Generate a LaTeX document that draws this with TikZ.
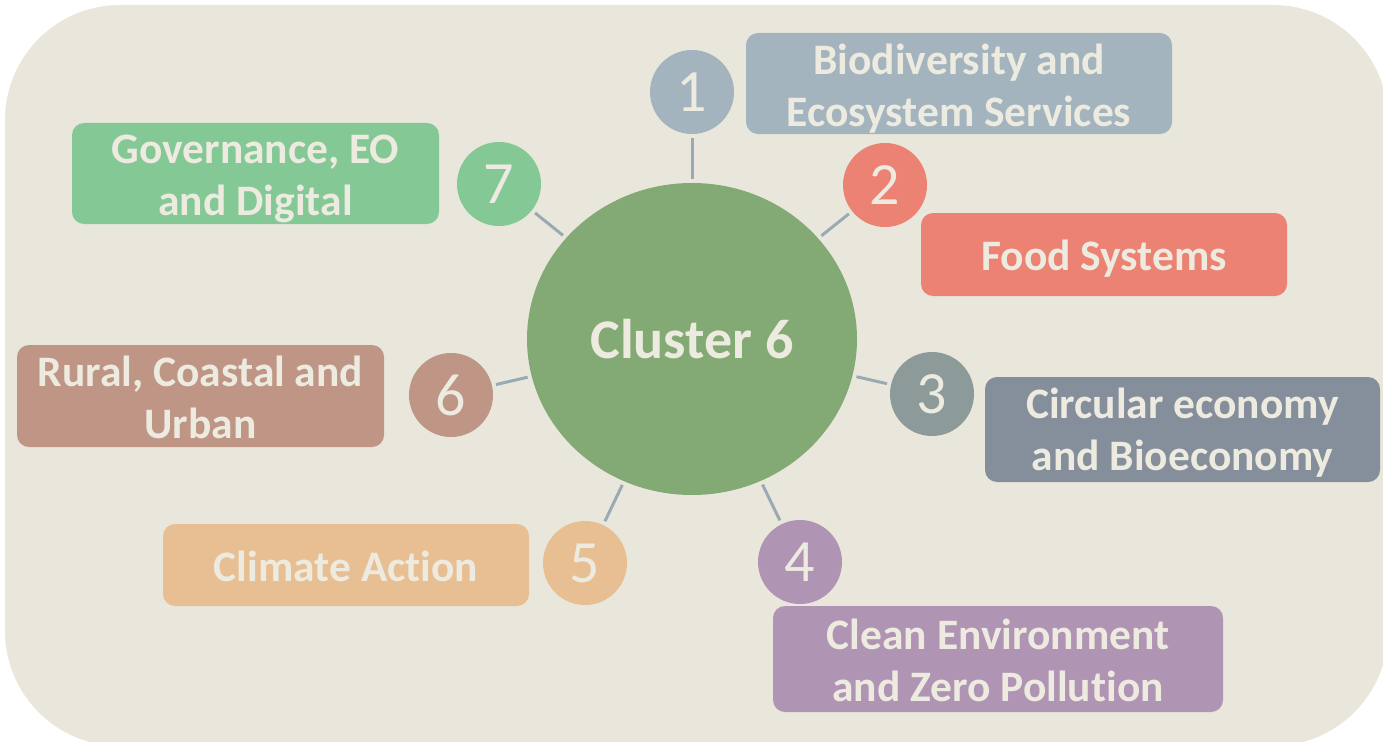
\documentclass[tikz,border=0pt]{standalone}
\usepackage{fontspec}
\setmainfont{Carlito}[Ligatures=NoCommon]
\usetikzlibrary{shapes.geometric}
\definecolor{bgc}{HTML}{E9E7DB}
\definecolor{txt}{HTML}{EDEADF}
\definecolor{cgreen}{HTML}{83A974}
\definecolor{cone}{HTML}{A3B4BF}
\definecolor{ctwo}{HTML}{EC8274}
\definecolor{cthree}{HTML}{8C9A9A}
\definecolor{bthree}{HTML}{858E9B}
\definecolor{cfour}{HTML}{B094B4}
\definecolor{cfive}{HTML}{E8BF92}
\definecolor{csix}{HTML}{BF9586}
\definecolor{cseven}{HTML}{84C896}
\definecolor{linec}{HTML}{9AAAB5}
\tikzset{
  boxnode/.style={rounded corners=12pt, inner sep=0pt},
  boxtext/.style={inner sep=0pt, text=txt, align=center,
    font=\fontsize{43.5}{52}\selectfont\bfseries},
  numnode/.style={circle, minimum size=84pt, inner sep=0pt, text=txt,
    font=\fontsize{60}{60}\selectfont},
  conn/.style={draw=linec, line width=3pt, shorten <=4pt, shorten >=4pt}
}
\begin{document}
\begin{tikzpicture}[x=1pt,y=-1pt]
\useasboundingbox (0,0) rectangle (1383,741);
\fill[bgc] (5,5) [rounded corners=115pt] rectangle (1388,746);
% main
\node[ellipse, fill=cgreen, minimum width=330pt, minimum height=312pt, inner sep=0pt,
  text=txt, font=\fontsize{56}{56}\selectfont\bfseries] (c) at (692,339) {Cluster 6};
% number circles
\node[numnode, fill=cone] (n1) at (692,92) {1};
\node[numnode, fill=ctwo] (n2) at (885,185) {2};
\node[numnode, fill=cthree] (n3) at (932,394) {3};
\node[numnode, fill=cfour] (n4) at (800,562) {4};
\node[numnode, fill=cfive] (n5) at (585,563) {5};
\node[numnode, fill=csix] (n6) at (451,395) {6};
\node[numnode, fill=cseven] (n7) at (499,184) {7};
% boxes
\node[boxnode, fill=cone, minimum width=426pt, minimum height=101pt] (b1) at (959,83.5) {};
\node[boxnode, fill=ctwo, minimum width=366pt, minimum height=83pt] (b2) at (1104,254.5) {};
\node[boxnode, fill=bthree, minimum width=395pt, minimum height=105pt] (b3) at (1182.5,429.5) {};
\node[boxnode, fill=cfour, minimum width=450pt, minimum height=106pt] (b4) at (998,659) {};
\node[boxnode, fill=cfive, minimum width=366pt, minimum height=82pt] (b5) at (346,565) {};
\node[boxnode, fill=csix, minimum width=367pt, minimum height=102pt] (b6) at (200.5,396) {};
\node[boxnode, fill=cseven, minimum width=367pt, minimum height=101pt] (b7) at (255.5,173.5) {};
% box texts
\node[boxtext] (t1) at ([yshift=-5pt]b1.center) {Biodiversity and\\Ecosystem Services};
\node[boxtext] (t2) at ([yshift=-4pt]b2.center) {Food Systems};
\node[boxtext] (t3) at ([yshift=-3pt]b3.center) {Circular economy\\and Bioeconomy};
\node[boxtext] (t4) at ([yshift=-1pt]b4.center) {Clean Environment\\and Zero Pollution};
\node[boxtext] (t5) at ([yshift=-1pt]b5.center) {Climate Action};
\node[boxtext] (t6) at ([yshift=-1pt]b6.center) {Rural, Coastal and\\Urban};
\node[boxtext] (t7) at ([yshift=-5pt]b7.center) {Governance, EO\\and Digital};
% connectors
\foreach \k in {1,...,7} {\draw[conn] (c) -- (n\k);}
\end{tikzpicture}
\end{document}
